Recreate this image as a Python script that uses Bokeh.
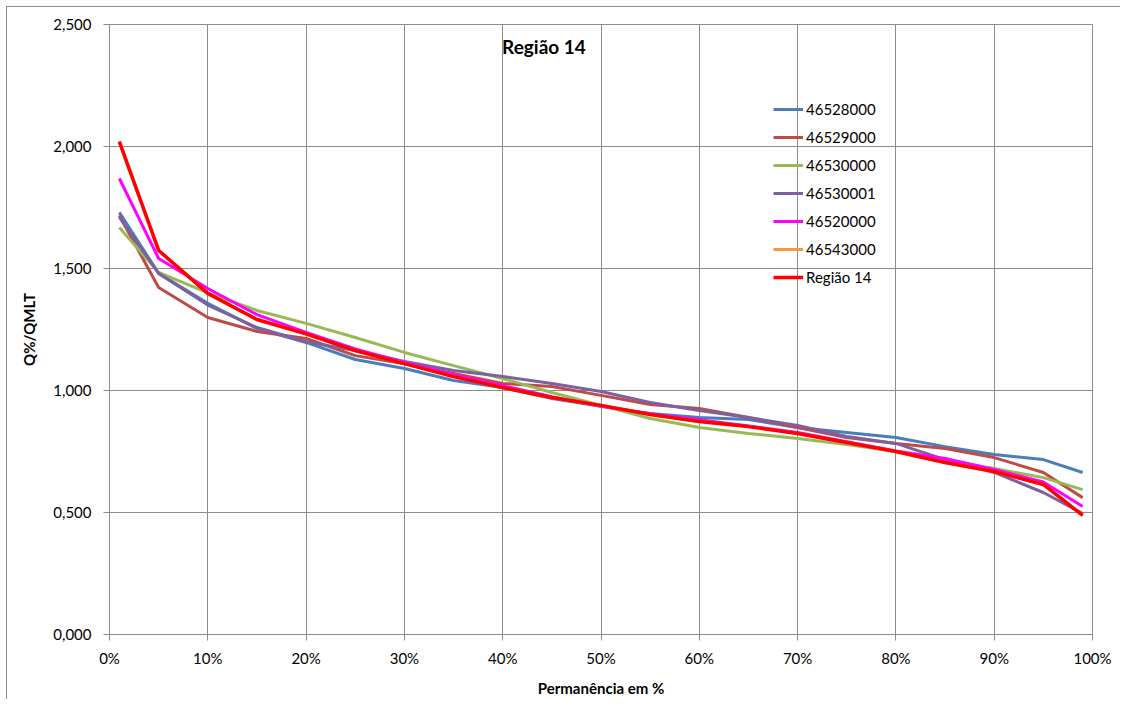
from bokeh.plotting import figure
from bokeh.models import (Legend, LegendItem, Label, FixedTicker, CustomJSTickFormatter,
                          Range1d, ColumnDataSource)
from bokeh.embed import file_html
from bokeh.resources import INLINE

# ---- data ----
permanencia = [1, 5, 10, 15, 20, 25, 30, 35, 40, 45, 50, 55, 60, 65, 70, 75, 80, 85, 90, 95, 99]

s_46528000 = [1.730, 1.480, 1.357, 1.254, 1.197, 1.127, 1.090, 1.041, 1.012, 0.967, 0.935,
              0.906, 0.889, 0.881, 0.848, 0.828, 0.807, 0.770, 0.738, 0.717, 0.664]
s_46529000 = [1.717, 1.422, 1.299, 1.242, 1.213, 1.143, 1.110, 1.070, 1.029, 1.016, 0.980,
              0.943, 0.926, 0.889, 0.848, 0.807, 0.783, 0.762, 0.725, 0.664, 0.561]
s_46530000 = [1.668, 1.484, 1.400, 1.328, 1.275, 1.217, 1.156, 1.102, 1.049, 0.992, 0.939,
              0.885, 0.848, 0.824, 0.803, 0.779, 0.750, 0.713, 0.680, 0.643, 0.594]
s_46530001 = [1.710, 1.480, 1.350, 1.258, 1.200, 1.164, 1.119, 1.082, 1.057, 1.029, 0.996,
              0.951, 0.918, 0.889, 0.857, 0.812, 0.783, 0.717, 0.664, 0.582, 0.496]
s_46520000 = [1.869, 1.541, 1.418, 1.311, 1.238, 1.170, 1.115, 1.065, 1.020, 0.975, 0.935,
              0.905, 0.880, 0.855, 0.828, 0.790, 0.752, 0.721, 0.676, 0.625, 0.525]
s_46543000 = [2.020, 1.574, 1.398, 1.291, 1.232, 1.164, 1.110, 1.057, 1.012, 0.971, 0.939,
              0.902, 0.873, 0.852, 0.824, 0.787, 0.750, 0.705, 0.668, 0.615, 0.488]
s_regiao14 = [2.020, 1.574, 1.398, 1.291, 1.232, 1.164, 1.110, 1.057, 1.012, 0.971, 0.939,
              0.902, 0.873, 0.852, 0.824, 0.787, 0.750, 0.705, 0.668, 0.615, 0.488]

series_names = ["46528000", "46529000", "46530000", "46530001", "46520000", "46543000", "Região 14"]
series_values = [s_46528000, s_46529000, s_46530000, s_46530001, s_46520000, s_46543000, s_regiao14]
series_colors = ["#4A7EBB", "#BE4B48", "#98B954", "#7D60A0", "#FF00FF", "#F79646", "#FF0000"]
series_widths = [3, 3, 3, 3, 3, 3, 3.5]

x_ticks = [0, 10, 20, 30, 40, 50, 60, 70, 80, 90, 100]
y_ticks = [0.0, 0.5, 1.0, 1.5, 2.0, 2.5]

FONT = "Lato"
FS = "15px"

p = figure(frame_width=983, frame_height=610,
           min_border_left=102, min_border_right=28, min_border_top=17, min_border_bottom=60,
           x_range=Range1d(0, 100), y_range=Range1d(0, 2.5),
           output_backend="svg", toolbar_location=None,
           background_fill_color="white", border_fill_color="white")
p.styles = {"margin-left": "6px", "margin-top": "6px",
            "border-left": "1px solid #8c8c8c", "border-top": "1px solid #8c8c8c"}

p.outline_line_color = "#8c8c8c"
p.outline_line_width = 1

for ax in (p.xaxis[0], p.yaxis[0]):
    ax.axis_line_color = "#8c8c8c"
    ax.major_tick_line_color = "#8c8c8c"
    ax.minor_tick_line_color = None
    ax.major_tick_in = 0
    ax.major_tick_out = 6
    ax.major_label_text_font = FONT
    ax.major_label_text_font_size = FS
    ax.major_label_text_color = "black"
    ax.axis_label_text_font = FONT
    ax.axis_label_text_font_size = FS
    ax.axis_label_text_font_style = "bold"
    ax.axis_label_text_color = "black"

p.xaxis.ticker = FixedTicker(ticks=x_ticks)
p.yaxis.ticker = FixedTicker(ticks=y_ticks)
p.xaxis.formatter = CustomJSTickFormatter(code="return tick.toFixed(0) + '%';")
p.yaxis.formatter = CustomJSTickFormatter(code="return tick.toFixed(3).replace('.', ',');")
p.xaxis.axis_label = "Permanência em %"
p.yaxis.axis_label = "Q%/QMLT"
p.xaxis.major_label_standoff = 8
p.yaxis.major_label_standoff = 12
p.xaxis.axis_label_standoff = 9
p.yaxis.axis_label_standoff = 12

p.xgrid.grid_line_color = "#8c8c8c"
p.ygrid.grid_line_color = "#8c8c8c"
p.xgrid.grid_line_width = 1
p.ygrid.grid_line_width = 1

items = []
for name, vals, col, w in zip(series_names, series_values, series_colors, series_widths):
    src = ColumnDataSource(dict(x=permanencia, y=vals))
    r = p.line("x", "y", source=src, line_color=col, line_width=w)
    items.append(LegendItem(label=name, renderers=[r]))

legend = Legend(items=items, location=(664, 347),
                background_fill_alpha=0, border_line_color=None,
                label_text_font=FONT, label_text_font_size=FS, label_text_color="black",
                glyph_width=30, glyph_height=20, label_height=20, spacing=8,
                label_standoff=3, padding=0, margin=0)
p.add_layout(legend)

title = Label(x=44.2, y=2.41, text="Região 14", text_font=FONT, text_font_size="19px",
              text_font_style="bold", text_color="black", text_align="center",
              text_baseline="middle")
p.add_layout(title)

open("out.html", "w").write(file_html(p, INLINE))
